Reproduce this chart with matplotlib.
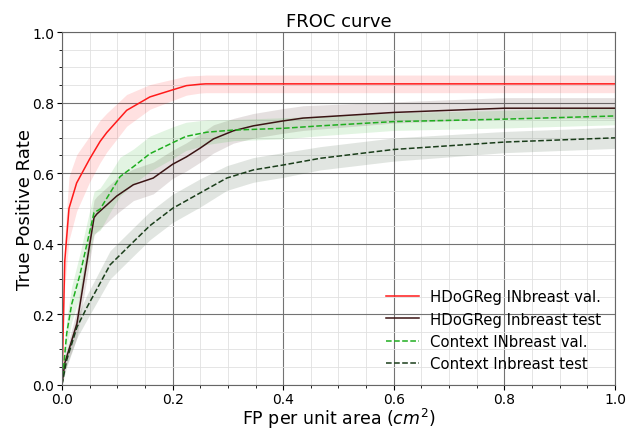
import matplotlib
matplotlib.use("Agg")
import matplotlib.pyplot as plt
import numpy as np
from matplotlib.ticker import MultipleLocator

labels = ["HDoGReg INbreast val.", "HDoGReg Inbreast test",
          "Context INbreast val.", "Context Inbreast test"]

red_x = [0, 0.005, 0.0127, 0.0265, 0.05, 0.069, 0.081, 0.117, 0.159, 0.2, 0.225, 0.25, 0.26, 0.4, 0.6, 0.8, 1.0]
red_y = [0, 0.35, 0.5, 0.572, 0.64, 0.69, 0.715, 0.778, 0.816, 0.836, 0.848, 0.852, 0.853, 0.853, 0.853, 0.853, 0.853]
red_e = [0, 0.07, 0.09, 0.08, 0.065, 0.06, 0.055, 0.045, 0.035, 0.03, 0.027, 0.025, 0.025, 0.025, 0.025, 0.025, 0.025]

brown_x = [0, 0.005, 0.027, 0.058, 0.063, 0.099, 0.129, 0.165, 0.2, 0.225, 0.25, 0.274, 0.31, 0.346, 0.4, 0.436, 0.6, 0.8, 1.0]
brown_y = [0, 0.061, 0.173, 0.474, 0.484, 0.535, 0.567, 0.586, 0.625, 0.646, 0.671, 0.697, 0.72, 0.734, 0.748, 0.756, 0.772, 0.784, 0.784]
brown_e = [0, 0.02, 0.04, 0.05, 0.05, 0.05, 0.045, 0.045, 0.04, 0.04, 0.04, 0.04, 0.035, 0.035, 0.035, 0.035, 0.03, 0.03, 0.03]

green_x = [0, 0.0085, 0.0175, 0.0325, 0.058, 0.069, 0.087, 0.105, 0.129, 0.159, 0.2, 0.224, 0.262, 0.31, 0.4, 0.467, 0.6, 0.8, 1.0]
green_y = [0, 0.145, 0.228, 0.312, 0.488, 0.498, 0.544, 0.59, 0.618, 0.655, 0.686, 0.704, 0.716, 0.722, 0.727, 0.734, 0.746, 0.753, 0.762]
green_e = [0, 0.04, 0.05, 0.06, 0.06, 0.06, 0.055, 0.055, 0.05, 0.05, 0.045, 0.04, 0.035, 0.03, 0.03, 0.028, 0.025, 0.025, 0.025]

dgreen_x = [0, 0.0085, 0.027, 0.045, 0.087, 0.129, 0.159, 0.2, 0.25, 0.298, 0.346, 0.4, 0.467, 0.6, 0.8, 1.0]
dgreen_y = [0, 0.07, 0.163, 0.219, 0.34, 0.405, 0.451, 0.5, 0.544, 0.586, 0.609, 0.623, 0.642, 0.667, 0.688, 0.7]
dgreen_e = [0, 0.02, 0.03, 0.035, 0.04, 0.04, 0.04, 0.04, 0.04, 0.035, 0.035, 0.035, 0.033, 0.033, 0.03, 0.03]

series = [
    (red_x, red_y, red_e, "#ff1a1a", "-"),
    (brown_x, brown_y, brown_e, "#3b1414", "-"),
    (green_x, green_y, green_e, "#1fae1f", "--"),
    (dgreen_x, dgreen_y, dgreen_e, "#1a3d1a", "--"),
]

fig = plt.figure(figsize=(6.35, 4.31), dpi=100)
ax = fig.add_axes([0.0976, 0.105, 0.8709, 0.8184])

for (x, y, e, c, ls), lab in zip(series, labels):
    x = np.array(x); y = np.array(y); e = np.array(e)
    ax.fill_between(x, y - e, y + e, color=c, alpha=0.13, lw=0)
    ax.plot(x, y, color=c, ls=ls, lw=1.1, label=lab)

ax.set_xlim(0, 1)
ax.set_ylim(0, 1)
ax.xaxis.set_major_locator(MultipleLocator(0.2))
ax.yaxis.set_major_locator(MultipleLocator(0.2))
ax.xaxis.set_minor_locator(MultipleLocator(0.05))
ax.yaxis.set_minor_locator(MultipleLocator(0.05))
ax.grid(which="major", color="0.45", lw=0.8)
ax.grid(which="minor", color="0.88", lw=0.6)
ax.set_axisbelow(True)
for s in ax.spines.values():
    s.set_color("0.4")
ax.tick_params(labelsize=10, pad=2)
ax.set_title("FROC curve", fontsize=13, pad=4)
ax.set_xlabel("FP per unit area ($cm^2$)", fontsize=12.5, labelpad=0)
ax.set_ylabel("True Positive Rate", fontsize=13, labelpad=-1)
ax.legend(loc="lower right", frameon=False, fontsize=10.7, handlelength=2.2,
          bbox_to_anchor=(1.0, 0.0))

fig.savefig("out.png", dpi=100)
